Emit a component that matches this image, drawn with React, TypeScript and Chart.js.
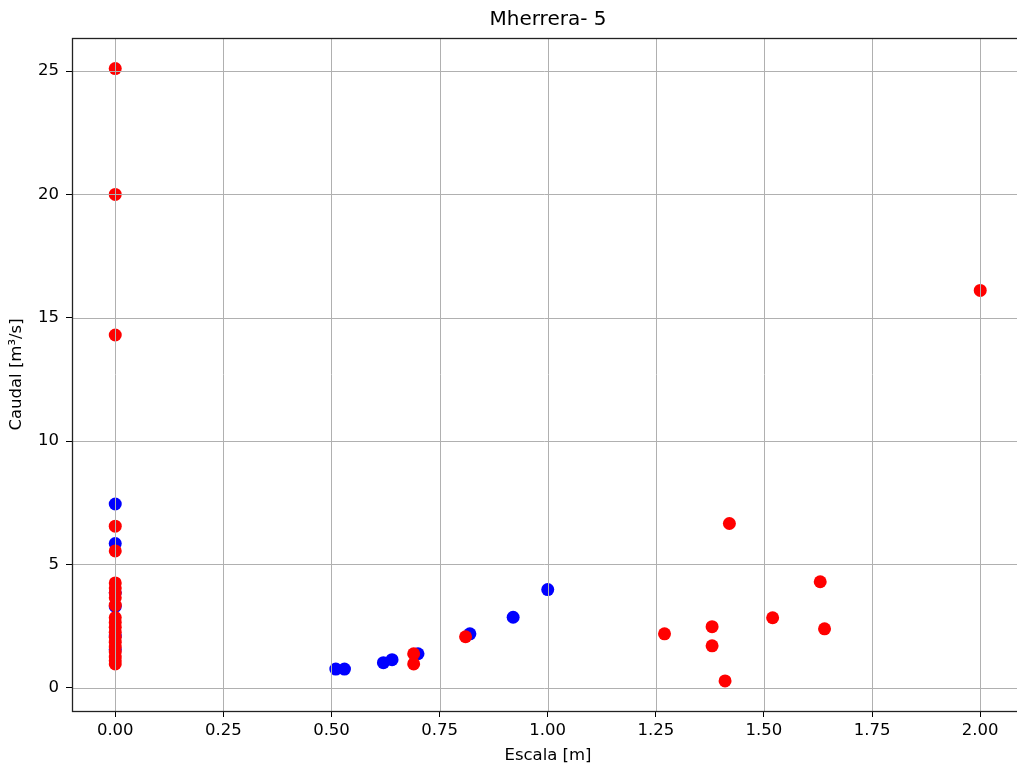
import React, { useEffect, useRef } from "react";
import { Chart, registerables } from "chart.js";

Chart.register(...registerables);

const titleText = "Mherrera- 5";
const xLabel = "Escala [m]";
const yLabel = "Caudal [m³/s]";

const xTicks = [0, 0.25, 0.5, 0.75, 1.0, 1.25, 1.5, 1.75, 2.0];
const yTicks = [0, 5, 10, 15, 20, 25];

// Blue series (x = Escala, y = Caudal)
const blueX = [0, 0, 0, 0, 0, 0, 0.51, 0.53, 0.62, 0.64, 0.70, 0.82, 0.92, 1.0];
const blueY = [7.45, 5.85, 3.85, 3.3, 2.1, 1.55, 0.76, 0.76, 1.02, 1.14, 1.38, 2.19, 2.86, 3.98];

// Red series
const redX = [
  0, 0, 0, 0, 0,
  0, 0, 0, 0, 0, 0, 0, 0, 0, 0, 0, 0, 0, 0, 0, 0,
  0.69, 0.69, 0.81, 1.27, 1.38, 1.38, 1.42, 1.41, 1.52, 1.63, 1.64, 2.0,
];
const redY = [
  25.1, 20.0, 14.3, 6.55, 5.55,
  4.25, 4.05, 3.85, 3.65, 3.35, 2.85, 2.65, 2.45, 2.25, 2.05, 1.85, 1.65, 1.45, 1.25, 1.1, 0.97,
  1.38, 0.97, 2.07, 2.19, 2.48, 1.7, 6.66, 0.28, 2.84, 4.3, 2.39, 16.11,
];

const FONT = "'DejaVu Sans', sans-serif";

export default function App() {
  const ref = useRef<HTMLCanvasElement | null>(null);

  useEffect(() => {
    if (!ref.current) return;
    const frame = {
      id: "frame",
      afterDatasetsDraw(chart: any) {
        const { ctx, chartArea, scales } = chart;
        const { left, top, right, bottom } = chartArea;
        ctx.save();
        ctx.strokeStyle = "#b0b0b0";
        ctx.lineWidth = 1;
        ctx.beginPath();
        xTicks.forEach((v) => {
          const px = Math.round(scales.x.getPixelForValue(v)) + 0.5;
          ctx.moveTo(px, top);
          ctx.lineTo(px, bottom);
        });
        yTicks.forEach((v) => {
          const py = Math.round(scales.y.getPixelForValue(v)) + 0.5;
          ctx.moveTo(left, py);
          ctx.lineTo(right, py);
        });
        ctx.stroke();
        ctx.restore();
      },
      afterDraw(chart: any) {
        const { ctx, chartArea } = chart;
        const { left, top, right, bottom } = chartArea;
        ctx.save();
        ctx.strokeStyle = "#222";
        ctx.lineWidth = 1.3;
        ctx.strokeRect(left + 0.5, top + 0.5, right - left + 4, bottom - top);
        ctx.fillStyle = "#000";
        ctx.textAlign = "center";
        ctx.textBaseline = "middle";
        ctx.font = `20px ${FONT}`;
        ctx.fillText(titleText, (left + 1024) / 2, 20);
        ctx.font = `16.5px ${FONT}`;
        ctx.fillText(xLabel, (left + 1024) / 2, 756);
        ctx.translate(17, (top + bottom) / 2);
        ctx.rotate(-Math.PI / 2);
        ctx.fillText(yLabel, 0, 0);
        ctx.restore();
      },
    };
    const chart = new Chart(ref.current, {
      type: "scatter",
      data: {
        datasets: [
          {
            label: "blue",
            data: blueX.map((x, i) => ({ x, y: blueY[i] })),
            backgroundColor: "#0000ff",
            borderColor: "#0000ff",
            pointRadius: 6.5,
            pointBorderWidth: 0,
            order: 2,
          },
          {
            label: "red",
            data: redX.map((x, i) => ({ x, y: redY[i] })),
            backgroundColor: "#ff0000",
            borderColor: "#ff0000",
            pointRadius: 6.5,
            pointBorderWidth: 0,
            order: 1,
          },
        ],
      },
      options: {
        animation: false,
        responsive: false,
        maintainAspectRatio: false,
        layout: { autoPadding: false, padding: { top: 38, left: 0, right: 0, bottom: 0 } },
        plugins: {
          legend: { display: false },
          title: { display: false },
          tooltip: { enabled: false },
        },
        scales: {
          x: {
            type: "linear",
            min: -0.1,
            max: 2.085,
            afterBuildTicks: (scale: any) => {
              scale.ticks = xTicks.map((v) => ({ value: v }));
            },
            afterFit: (scale: any) => {
              scale.height = 56;
              scale.paddingLeft = 0;
              scale.paddingRight = 0;
            },
            ticks: {
              color: "#000",
              font: { family: FONT, size: 16.5 },
              padding: 4,
              maxRotation: 0,
              callback: (v: any) => Number(v).toFixed(2),
            },
            grid: {
              drawOnChartArea: false,
              color: "#b0b0b0",
              lineWidth: 1,
              tickColor: "#000",
              tickLength: 6,
            },
            border: { display: false },
          },
          y: {
            type: "linear",
            min: -0.94,
            max: 26.34,
            afterBuildTicks: (scale: any) => {
              scale.ticks = yTicks.map((v) => ({ value: v }));
            },
            afterFit: (scale: any) => {
              scale.width = 72;
              scale.paddingTop = 0;
              scale.paddingBottom = 0;
            },
            ticks: {
              color: "#000",
              font: { family: FONT, size: 16.5 },
              padding: 7,
              callback: (v: any) => String(v),
            },
            grid: {
              drawOnChartArea: false,
              color: "#b0b0b0",
              lineWidth: 1,
              tickColor: "#000",
              tickLength: 6,
            },
            border: { display: false },
          },
        },
      },
      plugins: [frame],
    });
    return () => chart.destroy();
  }, []);

  return (
    <div style={{ position: "absolute", left: 0, top: 0, width: 1017, height: 767, background: "#fff" }}>
      <canvas ref={ref} width={1017} height={767} style={{ display: "block" }} />
    </div>
  );
}
